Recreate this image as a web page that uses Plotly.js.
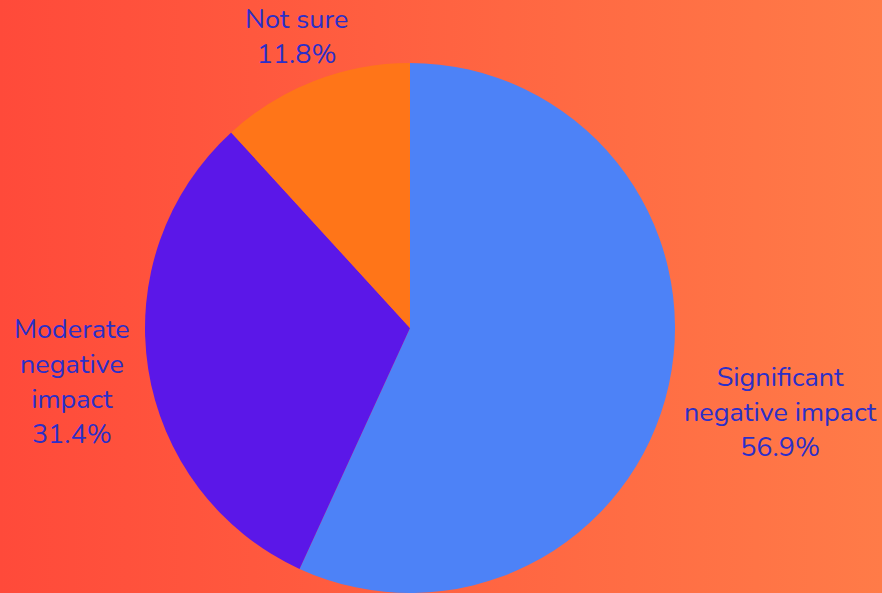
<!DOCTYPE html>
<html>
<head>
<meta charset="utf-8">
<script src="https://cdn.plot.ly/plotly-3.0.1.min.js"></script>
<style>
html,body{margin:0;padding:0;}
body{width:882px;height:593px;background:linear-gradient(to right,#ff4a3a,#ff7b48);overflow:hidden;}
#chart{width:882px;height:593px;}
</style>
</head>
<body>
<div id="chart"></div>
<script>
const labels = ["Significant<br>negative impact", "Moderate<br>negative<br>impact", "Not sure"];
const values = [56.9, 31.4, 11.8];
const colors = ["#4d82f7", "#5b17e8", "#ff7518"];

// label placement (pixels in the 882x593 page), layout only
const W = 882, H = 593;
const labelPos = [[780, 412], [72, 382], [296, 37]];

const annotations = labels.map((lab, i) => ({
  xref: "paper", yref: "paper",
  x: labelPos[i][0] / W, y: 1 - labelPos[i][1] / H,
  xanchor: "center", yanchor: "middle",
  text: lab + "<br>" + values[i].toFixed(1) + "%",
  showarrow: false,
  align: "center",
  font: {color: "#2b2fc9", size: 27, family: "Nunito, Lato, 'Noto Sans', sans-serif"}
}));

Plotly.newPlot("chart", [{
  type: "pie",
  labels: labels,
  values: values,
  sort: false,
  direction: "clockwise",
  rotation: 0,
  marker: {colors: colors},
  textinfo: "none",
  hoverinfo: "none",
  domain: {x: [145 / W, 675 / W], y: [0, 530 / H]}
}], {
  width: W,
  height: H,
  showlegend: false,
  paper_bgcolor: "rgba(0,0,0,0)",
  plot_bgcolor: "rgba(0,0,0,0)",
  margin: {l: 0, r: 0, t: 0, b: 0},
  annotations: annotations
}, {displayModeBar: false, staticPlot: true});
</script>
</body>
</html>
